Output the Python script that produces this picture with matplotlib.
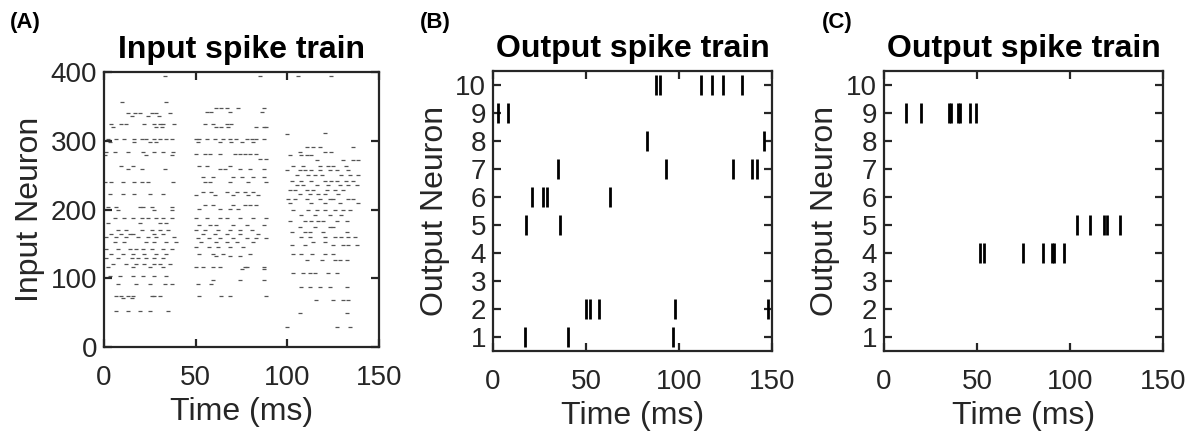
import matplotlib
matplotlib.use("Agg")
import matplotlib.pyplot as plt
import numpy as np

# ---------------- data ----------------
# Input spike train: (neuron index, [spike times in ms]) for each of the three bursts
input_burst1 = [
    (394, [33]),
    (356, [10, 34]),
    (340, [13, 17, 19.5, 26, 28.5, 36]),
    (336, [15, 24, 30]),
    (324, [4, 9.5, 12, 22, 27, 30.5, 32, 38]),
    (320, [5, 28.5, 31.5]),
    (303, [2, 6.5, 11, 16.5, 20.5, 23, 27, 30.5, 34, 37]),
    (298, [3, 16.5, 25, 28.5]),
    (284, [1.3, 6, 13, 21, 27, 32, 37.5]),
    (279, [0.4, 23, 37]),
    (264, [9.5, 16]),
    (259, [13, 20.5, 33]),
    (240, [0.4, 4, 10.5, 16.5, 20.5, 24, 37.5]),
    (223, [3, 10.5, 16.5, 25, 32]),
    (204, [2, 6.5, 19.5, 21.5, 26, 37]),
    (199, [7.5, 27.5, 37]),
    (187, [6, 11, 16, 20.5, 24, 28.5, 32, 37]),
    (180, [2, 19.5, 30.5, 34]),
    (170, [7.5, 12, 20.5, 26, 30.5, 35]),
    (165, [4, 9.5, 14, 16, 27, 32]),
    (160, [1.3, 6.5, 12, 18.5, 24, 28.5, 38]),
    (153, [6, 11, 23, 27, 34, 39]),
    (143, [1.3, 7.5, 14, 17.5, 21.5, 26, 32, 37]),
    (136, [4, 10.5, 16, 22, 28.5, 34]),
    (129, [1.3, 7.5, 15, 18.5, 23, 27.5, 32]),
    (121, [5, 12, 17.5, 22, 27, 30.5, 36]),
    (116, [2, 16, 25, 32]),
    (104, [3, 8.5, 16, 21.5, 27.5, 34]),
    (92, [7.5, 17.5, 25, 33, 37]),
    (74, [6.5, 9.5, 13, 16, 26, 27.5, 30.5]),
    (71, [10.5, 15]),
    (53, [6.5, 13, 19.5, 25, 35]),
]
input_burst2 = [
    (394, [85]),
    (347, [61, 64, 67, 73, 87.5]),
    (342, [56, 58.5, 68.5, 86]),
    (325, [55, 59.5, 67, 69.5]),
    (320, [61, 64, 67.5, 83, 87, 88.5]),
    (303, [50.4, 52, 56, 60.5, 65, 68.5, 72, 78, 80.5, 83, 87.5]),
    (298, [51.3, 63, 69.5, 75, 81.5]),
    (281, [50.4, 55, 57.7, 63, 71.3, 74, 76.8, 79.5, 83]),
    (274, [85, 88.5]),
    (264, [52, 56, 68.5]),
    (259, [63, 66, 74, 79.5, 87]),
    (247, [54, 59.5, 70.4, 75, 81.5, 87]),
    (240, [55, 57.7, 68.5, 78.5, 88.5]),
    (225, [54, 58.5, 67, 72.3, 77, 81.5]),
    (221, [50.4, 60.5, 70.4, 78.5, 84]),
    (206, [55, 59.5, 70.4, 77, 79.5, 83]),
    (201, [52, 63, 68.5, 73]),
    (187, [50.4, 56, 63, 67, 74, 81.5, 88.5]),
    (177, [52, 57.7, 61.3, 70.4, 78, 87]),
    (170, [50.4, 55, 62, 68.5, 74, 80.5]),
    (165, [54, 60.5, 67, 74, 84]),
    (158, [51.3, 57, 63, 70.4, 78, 83, 88.5]),
    (153, [53, 61.3, 67, 72.3, 81.5]),
    (146, [50.4, 57, 62, 68.5, 76]),
    (136, [52, 59.5, 65, 79.5]),
    (132, [61.3, 68.5, 74]),
    (116, [50.4, 54, 59.5, 63, 77, 78, 87]),
    (114, [75, 87.5]),
    (97, [59.5, 74, 87.5]),
    (92, [51.3, 58.5]),
    (74, [52, 64, 68.5, 88.5]),
]
input_burst3 = [
    (394, [106, 124]),
    (312, [120.5]),
    (310, [100]),
    (291, [110.5, 114, 118, 136]),
    (284, [107, 120.5, 124]),
    (279, [101.5, 107.5, 110.5, 113]),
    (272, [116, 130.5, 136, 138.7]),
    (264, [103, 108.7, 118, 122, 125, 132]),
    (257, [100, 106.8, 109.5, 113, 118, 123, 127, 133]),
    (250, [105, 111.4, 115, 118.7, 129.5, 134, 138.7]),
    (242, [102.3, 107.7, 113, 120.5, 124, 127, 132, 136]),
    (235, [105, 108.7, 116, 122.3, 128.7, 133, 137.8]),
    (228, [101.4, 104, 110.5, 114, 121.4, 126, 130.5]),
    (222, [106.8, 112.3, 116.8, 120.5, 127.8]),
    (216, [100.5, 104, 110.5, 117.8, 123.2, 125, 133, 136]),
    (209, [101.4, 113, 120.5, 128.7, 138.7]),
    (199, [103, 111.4, 116, 120.5, 126, 130.5, 134]),
    (192, [107.7, 115, 123.2, 129.5]),
    (184, [101.4, 109.5, 113, 116.8, 119.5, 127, 132.3]),
    (175, [106.8, 115, 123, 125]),
    (167, [102.3, 109.5, 112.3, 119.6, 132.3]),
    (160, [107.7, 112.3, 120.5, 126, 129.5, 133, 136.8]),
    (153, [114, 120.5]),
    (148, [102.3, 109.6, 125, 130.5, 133.2, 137.8]),
    (136, [103.2, 107.7, 113.2, 120.5, 125]),
    (126, [110.5, 118.7, 126, 128.7, 132.3]),
    (107, [103.2, 108.7, 112.3, 115, 122.3, 127]),
    (87, [107.7, 112.3, 117.8, 123.2, 132.3]),
    (68, [115.9, 125, 130.5, 133.2]),
    (49, [106.8, 132.3]),
    (29, [100, 127, 134]),
]

# Output spike trains: spike times (ms) for output neurons 1..10
output_neurons = list(range(1, 11))
output_b = [
    [17.0, 40.1, 97.0],                          # 1
    [50.0, 51.9, 57.0, 98.0, 147.8],             # 2
    [],                                          # 3
    [],                                          # 4
    [17.9, 35.8],                                # 5
    [21.0, 26.9, 29.0, 63.1],                    # 6
    [35.0, 93.0, 128.9, 139.2, 141.9],           # 7
    [82.8, 145.9],                               # 8
    [2.7, 7.9],                                  # 9
    [87.6, 90.0, 111.8, 117.7, 123.8, 134.1],    # 10
]
output_c = [
    [],                                                  # 1
    [],                                                  # 2
    [],                                                  # 3
    [51.8, 53.9, 74.9, 85.7, 90.5, 91.6, 97.0],          # 4
    [103.9, 110.9, 118.3, 119.9, 126.9],                 # 5
    [],                                                  # 6
    [],                                                  # 7
    [],                                                  # 8
    [11.8, 19.9, 34.8, 35.9, 39.8, 41.0, 46.4, 49.5],    # 9
    [],                                                  # 10
]

x_ticks = [0, 50, 100, 150]
a_y_ticks = [0, 100, 200, 300, 400]
panel_letters = ["(A)", "(B)", "(C)"]
titles = ["Input spike train", "Output spike train", "Output spike train"]

# ---------------- style ----------------
plt.rcParams["font.family"] = ["Liberation Sans", "DejaVu Sans"]
AX_COL = "#262626"

W, H = 1190, 432
fig = plt.figure(figsize=(W / 100, H / 100), dpi=100)


def px_axes(l, t, r, b):
    return fig.add_axes([l / W, 1 - b / H, (r - l) / W, (b - t) / H])


def style(ax):
    for s in ax.spines.values():
        s.set_color(AX_COL)
        s.set_linewidth(1.6)
    ax.tick_params(direction="in", top=True, right=True, length=6, width=1.6,
                   colors=AX_COL, labelsize=20)
    ax.tick_params(axis="y", pad=5)
    ax.tick_params(axis="x", pad=13)
    ax.set_xlim(0, 150)
    ax.set_xticks(x_ticks)
    ax.set_xlabel("Time (ms)", fontsize=23, color=AX_COL, labelpad=4)


axA = px_axes(104, 72, 379, 347)
axB = px_axes(493, 71, 772, 351)
axC = px_axes(884, 71, 1163, 351)

# Panel A
all_t, all_n = [], []
for burst in (input_burst1, input_burst2, input_burst3):
    for n, ts in burst:
        all_t.extend(ts)
        all_n.extend([n] * len(ts))
axA.plot(all_t, all_n, linestyle="none", marker="_", markersize=2.6,
         markeredgewidth=0.9, color="#555555")
style(axA)
axA.set_ylim(0, 400)
axA.set_yticks(a_y_ticks)
axA.set_ylabel("Input Neuron", fontsize=23, color=AX_COL, labelpad=4)

# Panels B and C
for ax, data in ((axB, output_b), (axC, output_c)):
    ax.eventplot(data, lineoffsets=output_neurons, linelengths=0.74,
                 colors="black", linewidths=2.0)
    style(ax)
    ax.set_ylim(0.5, 10.5)
    ax.set_yticks(output_neurons)
    ax.set_ylabel("Output Neuron", fontsize=23, color=AX_COL, labelpad=4)

for ax, title in zip((axA, axB, axC), titles):
    ax.set_title(title, fontsize=23, fontweight="bold", color="black", pad=10)

for x, letter in zip((10, 420, 822), panel_letters):
    fig.text(x / W, 1 - 12 / H, letter, fontsize=16, fontweight="bold",
             ha="left", va="top", color="black")

fig.savefig("out.png", dpi=100, facecolor="white")
